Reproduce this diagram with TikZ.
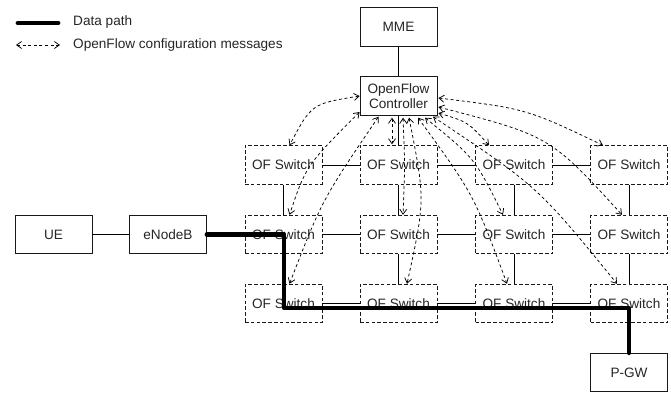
\documentclass[tikz,border=0pt]{standalone}
\usepackage{fontspec}
\setmainfont{Liberation Sans}
\usetikzlibrary{arrows.meta}
\tikzset{
  x=1pt,y=-1pt,
  lbl/.style={font=\fontsize{13.6}{15.5}\selectfont,text=black!85},
  box/.style={lbl,draw=black!90,line width=0.9pt,minimum width=77pt,minimum height=38.5pt,inner sep=0pt,align=center},
  switchbox/.style={box,dash pattern=on 3.6pt off 2.2pt},
  link/.style={line width=0.9pt,draw=black},
  datapath/.style={line width=4.8pt,line cap=round,line join=round,draw=black},
  config/.style={line width=0.75pt,dash pattern=on 3pt off 2.6pt,{Straight Barb[length=5pt,width=7pt,line width=0.75pt]}-{Straight Barb[length=5pt,width=7pt,line width=0.75pt]}},
  legendtext/.style={lbl,anchor=west,inner sep=0pt}
}
\begin{document}
\begin{tikzpicture}
\useasboundingbox (0,0) rectangle (671,392);
\fill[white] (0,0) rectangle (671,392);
% nodes
\node[box] (mme) at (398.5,27) {MME};
\node[box] (ctrl) at (398.5,96) {OpenFlow\\Controller};
\node[box] (ue) at (53.5,234.5) {UE};
\node[box] (enb) at (168,234.5) {eNodeB};
\node[box] (pgw) at (629,372.5) {P-GW};
\foreach \r/\y in {1/165,2/234.5,3/303.5}
  \foreach \c/\x in {1/283.5,2/398.5,3/514,4/629}
    \node[switchbox] (s\r\c) at (\x,\y) {OF Switch};
% plain links
\draw[link] (mme) -- (ctrl);
\draw[link] (ctrl) -- (s12);
\draw[link] (ue) -- (enb);
\foreach \r in {1,2,3}{
  \draw[link] (s\r1) -- (s\r2);
  \draw[link] (s\r2) -- (s\r3);
  \draw[link] (s\r3) -- (s\r4);
}
\foreach \c in {1,2,3,4}{
  \draw[link] (s1\c) -- (s2\c);
  \draw[link] (s2\c) -- (s3\c);
}
% data path
\coordinate (d1) at (284,234.5);
\coordinate (d2) at (284,308);
\coordinate (d3) at (629,308);
\draw[datapath] (enb.east) -- (d1) -- (d2) -- (d3) -- (pgw.north);
% configuration messages
\draw[config] ([yshift=0pt]ctrl.west) .. controls (311.5,103.8) .. ([xshift=6pt]s11.north);
\draw[config] ([yshift=-16pt]ctrl.west) .. controls (306,165.7) .. ([xshift=6pt]s21.north);
\draw[config] ([xshift=-20pt,yshift=-1pt]ctrl.south) .. controls (322,200) .. ([xshift=6pt]s31.north);
\draw[config] ([xshift=-6.5pt,yshift=-2pt]ctrl.south) -- ([xshift=-6.5pt,yshift=1pt]s12.north);
\draw[config] ([xshift=4.5pt,yshift=-2pt]ctrl.south) .. controls (405,165) .. ([xshift=4.5pt]s22.north);
\draw[config] ([xshift=10.5pt,yshift=-2pt]ctrl.south) .. controls (425.3,200) .. ([xshift=8.5pt]s32.north);
\draw[config] ([xshift=19.5pt,yshift=-2pt]ctrl.south) .. controls (473.8,194.5) .. ([xshift=-7pt]s33.north);
\draw[config] ([xshift=26.5pt,yshift=-2pt]ctrl.south) .. controls (474.7,158) .. ([xshift=-11pt]s23.north);
\draw[config] ([xshift=34.5pt,yshift=-1pt]ctrl.south) .. controls (538,186.7) .. ([xshift=-12pt]s34.north);
\draw[config] ([xshift=1pt,yshift=-17pt]ctrl.east) .. controls (468,122) .. ([xshift=-25pt]s13.north);
\draw[config] ([xshift=1pt,yshift=-11pt]ctrl.east) .. controls (550,136) .. ([xshift=-7pt]s24.north);
\draw[config] ([xshift=1pt,yshift=-2pt]ctrl.east) .. controls (526.5,108.8) .. ([xshift=-26pt]s14.north);
% legend
\coordinate (l1a) at (18,23);
\coordinate (l1b) at (58,23);
\coordinate (l2a) at (16,45);
\coordinate (l2b) at (60,45);
\draw[datapath] (l1a) -- (l1b);
\draw[config] (l2a) -- (l2b);
\node[legendtext] (t1) at (73,21.5) {Data path};
\node[legendtext] (t2) at (73,44.5) {OpenFlow configuration messages};
\end{tikzpicture}
\end{document}
